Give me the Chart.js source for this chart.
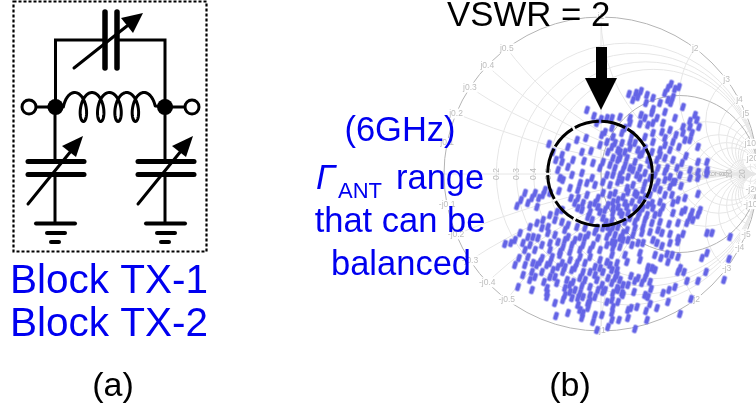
<!DOCTYPE html>
<html>
<head>
<meta charset="utf-8">
<title>Block TX balance range</title>
<script src="https://cdn.jsdelivr.net/npm/chart.js@4/dist/chart.umd.min.js"></script>
<style>
    html, body { margin: 0; padding: 0; background: #fff; overflow: hidden; }
    canvas { display: block; }
</style>
</head>
<body>
<canvas id="chart" width="756" height="411"></canvas>
<script>
// ==========================================
// 1. DATA (axes run in picture units)
// ==========================================
const upperLeft = [[587,110],[594,116],[601,119],[607,118],[597,123],[605,132],[602,135],[607,142],[600,145],[586,138],[577,140],[549,144],[553,152],[562,155],[568,147],[582,152],[591,151],[556,160],[562,162],[573,160],[584,161],[603,162],[608,152],[593,163]];

const upperRight = [[629,94],[636,93],[641,91],[633,100],[638,97],[647,95],[646,103],[653,98],[660,103],[665,93],[671,84],[668,88],[675,89],[679,87],[673,97],[671,103],[668,100],[683,107],[653,109],[665,112],[641,115],[645,118],[652,113],[675,118],[630,118],[620,117],[640,124],[648,125],[657,118],[653,123],[663,123],[630,123],[612,118],[690,121],[695,115],[697,120],[699,127],[690,127],[683,127],[683,133],[676,135],[692,133],[670,130],[662,132],[653,133],[645,137],[632,135],[622,133],[613,137],[615,143],[622,143],[630,142],[635,143],[665,138],[673,142],[685,140],[690,140],[653,142],[645,148],[665,145],[679,147],[698,147],[670,150],[660,150],[652,152],[612,147],[620,152],[625,152],[630,148],[638,150],[686,156],[707,162],[698,162],[613,158],[627,158],[620,158],[635,162],[657,160],[665,158],[673,160],[682,163],[660,155],[642,154]];

const middleLeft = [[558,170],[563,180],[572,175],[582,173],[592,178],[600,168],[559,191],[550,193],[543,195],[539,198],[545,190],[535,193],[532,198],[528,203],[537,207],[525,193],[521,200],[517,206],[571,198],[578,198],[575,203],[587,195],[598,198],[603,193],[595,203],[605,210],[600,212],[582,210],[588,217],[592,220],[603,218],[562,210],[557,212],[550,215],[543,220],[537,223],[530,227],[562,222],[555,220],[548,227],[548,233],[542,228],[568,225],[565,230],[577,227],[585,228],[597,228],[603,228],[608,227],[520,233],[528,237],[533,237],[538,238],[515,240],[511,243],[505,244],[523,243],[530,245],[542,245],[550,243],[558,242],[568,237],[580,237],[588,235],[598,238],[607,237],[572,245],[563,247],[583,245],[593,245],[607,245],[560,178],[568,167],[580,183],[587,183],[595,185],[603,182],[607,175],[570,188],[578,190]];

const middleRight = [[615,168],[623,170],[630,168],[640,168],[645,173],[637,175],[628,177],[620,175],[613,175],[658,168],[667,168],[677,168],[690,170],[698,172],[707,170],[670,177],[680,175],[690,178],[698,178],[658,182],[665,180],[673,182],[681,186],[698,194],[685,198],[670,187],[660,190],[672,195],[678,200],[673,203],[665,195],[655,188],[618,182],[633,185],[627,188],[635,193],[645,183],[643,190],[615,193],[623,197],[613,202],[632,202],[640,200],[650,195],[652,203],[660,202],[627,207],[618,207],[635,208],[643,208],[653,208],[663,207],[613,213],[622,215],[647,215],[638,217],[630,218],[655,215],[660,213],[673,213],[682,212],[685,210],[692,212],[700,210],[690,217],[698,215],[693,220],[678,223],[669,224],[660,222],[652,223],[643,227],[635,228],[627,230],[618,227],[613,227],[687,223],[658,230],[650,232],[642,233],[633,235],[623,233],[615,235],[670,234],[662,233],[683,234],[678,238],[707,233],[712,233],[670,243],[662,246],[678,242],[653,240],[657,243],[638,243],[643,243],[623,240],[615,243],[620,247],[632,245],[613,248],[707,174],[730,237]];

const lowerLeft = [[519,258],[515,265],[528,257],[525,265],[523,275],[530,280],[518,287],[532,290],[532,272],[537,265],[542,272],[535,277],[544,282],[547,265],[552,257],[560,255],[553,270],[550,277],[558,267],[563,272],[547,288],[547,293],[547,297],[557,283],[565,288],[570,292],[565,295],[563,300],[572,298],[555,303],[556,316],[568,313],[580,293],[590,287],[580,278],[583,272],[590,272],[572,270],[570,260],[580,257],[590,257],[600,260],[595,267],[603,272],[608,278],[590,295],[583,297],[595,297],[603,292],[602,285],[578,305],[588,303],[582,318],[583,313],[595,315],[602,315],[593,322],[608,327],[597,330],[607,302],[580,310],[588,308],[573,282],[562,263],[542,258],[533,263],[607,262],[577,263],[585,263],[567,280],[597,280]];

const lowerRight = [[612,255],[617,263],[617,270],[625,255],[627,262],[640,253],[640,260],[655,255],[661,258],[667,254],[672,255],[668,262],[678,257],[702,258],[707,253],[729,259],[724,280],[706,272],[698,281],[687,281],[684,272],[678,272],[680,268],[648,267],[655,270],[647,273],[652,268],[631,276],[638,278],[635,281],[642,283],[645,278],[650,282],[651,289],[634,292],[623,285],[618,290],[613,293],[622,293],[615,278],[612,283],[617,275],[663,293],[669,290],[675,287],[645,295],[648,297],[668,302],[691,299],[680,314],[657,308],[650,304],[646,311],[637,307],[631,308],[628,310],[628,318],[619,320],[612,320],[647,320],[635,329],[618,302],[613,307],[612,313],[617,288],[623,295],[612,300]];

// Extra marks where the cloud is nearly solid
const denseCore = [[610,165],[618,160],[625,165],[633,170],[640,178],[650,178],[622,180],[610,185],[628,192],[610,195],[618,200],[625,203],[637,195],[645,197],[608,205],[613,208],[620,212],[628,213],[640,212],[648,205],[606,222],[612,220],[625,222],[635,222],[645,220],[590,205],[583,203],[578,208],[590,212],[598,207],[610,232],[620,238],[628,240],[595,232],[585,238],[575,240],[565,240],[555,235],[550,250],[560,252],[570,252],[580,250],[590,250],[600,250],[612,242],[535,250],[525,250],[540,262],[550,263],[575,268],[585,280],[595,275],[600,268],[610,265],[575,290],[582,286],[590,301],[598,290],[570,285],[578,298],[555,277],[565,267],[605,290],[612,270],[620,280],[628,285],[650,165],[655,175],[665,172],[675,182],[640,155],[648,160],[618,150],[612,128],[625,128]];

// Smith chart grid values
const resistances = [0.2, 0.3, 0.4, 0.5, 2, 3, 4, 5, 10, 20];
const reactances = [0.2, 0.3, 0.4, 0.5, 1, 2, 3, 4, 5, 6, 7, 8, 9, 10, 20];
const resistanceLabels = ['0.2', '0.3', '0.4', '0.5', '2', '3', '4', '5', '6', '7', '8', '9', '10', '20'];
const reactanceLabels = ['0.1', '0.2', '0.3', '0.4', '0.5', '1', '2', '3', '4', '5', '10', '20'];
const targetVswr = 2;

// Text: [string, x, baseline y, size, colour, align]
const captions = [
    ['VSWR = 2', 447, 26, 34.8, '#000', 'left'],
    ['Block TX-1', 10, 293, 40.5, '#0000f0', 'left'],
    ['Block TX-2', 10, 336, 40.5, '#0000f0', 'left'],
    ['(a)', 113, 396, 34, '#000', 'center'],
    ['(b)', 570, 396, 34, '#000', 'center'],
    ['(6GHz)', 400, 141, 34.5, '#0000f0', 'center'],
    ['range', 396, 189, 34.5, '#0000f0', 'left'],
    ['that can be', 400, 232, 34.5, '#0000f0', 'center'],
    ['balanced', 401, 275, 34.5, '#0000f0', 'center']
];

const SANS = '"Liberation Sans", Arial, sans-serif';
const smithCentre = { x: 601, y: 174, r: 157 };

// ==========================================
// 2. POINT SHAPE (slanted blob)
// ==========================================
function makeBlob() {
    const c = document.createElement('canvas');
    c.width = 11; c.height = 11;
    const g = c.getContext('2d');
    g.fillStyle = '#6464e6';
    g.translate(5.5, 5.5);
    g.rotate(0.3);
    g.beginPath();
    g.roundRect(-2.3, -4.1, 4.6, 8.2, 1.5);
    g.fill();
    return c;
}

// ==========================================
// 3. DRAWING HELPERS
// ==========================================
function line(ctx, pts, width) {
    ctx.lineWidth = width;
    ctx.beginPath();
    pts.forEach((p, i) => i ? ctx.lineTo(p[0], p[1]) : ctx.moveTo(p[0], p[1]));
    ctx.stroke();
}

function triangle(ctx, a, b, c) {
    ctx.beginPath();
    ctx.moveTo(a[0], a[1]);
    ctx.lineTo(b[0], b[1]);
    ctx.lineTo(c[0], c[1]);
    ctx.closePath();
    ctx.fill();
}

function dot(ctx, x, y, r, hollow) {
    ctx.beginPath();
    ctx.arc(x, y, r, 0, Math.PI * 2);
    ctx.fillStyle = hollow ? '#fff' : '#000';
    ctx.fill();
    if (hollow) { ctx.lineWidth = 3; ctx.stroke(); }
    ctx.fillStyle = '#000';
}

// Shunt tunable capacitor with its ground, dx moves it to the right-hand branch
function shuntCap(ctx, dx) {
    const x = 55 + dx;
    ctx.lineCap = 'butt';
    line(ctx, [[x, 107], [x, 161]], 3);
    line(ctx, [[x, 175], [x, 223]], 3);
    ctx.lineCap = 'round';
    line(ctx, [[28 + dx, 161.5], [84 + dx, 161.5]], 5);
    line(ctx, [[28 + dx, 174.5], [84 + dx, 174.5]], 5);
    line(ctx, [[36 + dx, 223.5], [75 + dx, 223.5]], 4);
    line(ctx, [[47 + dx, 233], [65 + dx, 233]], 4);
    line(ctx, [[51 + dx, 242], [59 + dx, 242]], 4);
    line(ctx, [[28 + dx, 204], [71 + dx, 151]], 3);
    triangle(ctx, [83 + dx, 136], [62 + dx, 146], [76 + dx, 157]);
}

function drawSchematic(ctx) {
    ctx.save();
    ctx.strokeStyle = '#000';
    ctx.fillStyle = '#000';

    // dashed frame
    ctx.setLineDash([3, 2]);
    ctx.lineWidth = 2.2;
    ctx.strokeRect(13.5, 1.5, 193, 250);
    ctx.setLineDash([]);

    // series tunable capacitor on top
    line(ctx, [[55.5, 107], [55.5, 40], [105, 40]], 3);
    line(ctx, [[117, 40], [165, 40], [165, 107]], 3);
    ctx.lineCap = 'round';
    line(ctx, [[105, 12], [105, 68]], 5.5);
    line(ctx, [[117, 12], [117, 68]], 5.5);
    line(ctx, [[74, 68], [127, 26]], 3);
    triangle(ctx, [143, 13], [121, 18], [133, 33]);

    // inductor
    const coil = [[48, 107]];
    for (let t = -Math.PI / 2; t <= 8 * Math.PI + Math.PI / 2; t += 0.1) {
        coil.push([74.7 + 2.76 * t + 7 * Math.sin(t), 107 - 14.5 * Math.cos(t)]);
    }
    coil.push([172, 107]);
    ctx.lineJoin = 'round';
    line(ctx, coil, 3);

    shuntCap(ctx, 0);
    shuntCap(ctx, 110);

    // ports and nodes
    line(ctx, [[36, 107], [48, 107]], 3);
    line(ctx, [[172, 107], [185, 107]], 3);
    dot(ctx, 55.5, 107, 8);
    dot(ctx, 165, 107, 8);
    dot(ctx, 29, 107, 7, true);
    dot(ctx, 192, 107, 7, true);
    ctx.restore();
}

// Smith chart, positions go through the scales
function drawSmith(chart) {
    const { ctx, scales } = chart;
    const X = gx => scales.x.getPixelForValue(smithCentre.x + gx * smithCentre.r);
    const Y = gy => scales.y.getPixelForValue(smithCentre.y - gy * smithCentre.r);
    const R = smithCentre.r;

    ctx.save();
    ctx.beginPath();
    ctx.arc(X(0), Y(0), R, 0, Math.PI * 2);
    ctx.clip();

    ctx.strokeStyle = '#e6e6e6';
    ctx.lineWidth = 1;
    resistances.forEach(r => {
        ctx.beginPath();
        ctx.arc(X(r / (r + 1)), Y(0), R / (r + 1), 0, Math.PI * 2);
        ctx.stroke();
    });
    reactances.forEach(v => {
        [1, -1].forEach(sign => {
            ctx.beginPath();
            ctx.arc(X(1), Y(sign / v), R / v, 0, Math.PI * 2);
            ctx.stroke();
        });
    });
    line(ctx, [[X(0), Y(1)], [X(0), Y(-1)]], 1);
    line(ctx, [[X(-1), Y(0)], [X(1), Y(0)]], 1);

    // r = 1 circle is darker
    ctx.strokeStyle = '#b4b4b4';
    ctx.beginPath();
    ctx.arc(X(0.5), Y(0), R / 2, 0, Math.PI * 2);
    ctx.stroke();
    ctx.restore();

    // outer circle
    ctx.save();
    ctx.strokeStyle = '#b4b4b4';
    ctx.lineWidth = 1;
    ctx.beginPath();
    ctx.arc(X(0), Y(0), R, 0, Math.PI * 2);
    ctx.stroke();

    // labels
    ctx.font = '8.5px ' + SANS;
    ctx.textAlign = 'center';
    ctx.textBaseline = 'middle';
    ctx.fillStyle = '#bdbdbd';
    reactanceLabels.forEach(v => {
        const x = parseFloat(v);
        const a = Math.PI - 2 * Math.atan(x);
        const rim = x >= 10 ? 0.97 : 1;
        [1, -1].forEach(sign => {
            const text = (sign > 0 ? 'j' : '-j') + v;
            const px = X(Math.cos(a) * rim);
            const py = Y(sign * Math.sin(a) * rim);
            const w = ctx.measureText(text).width + 2;
            ctx.fillStyle = '#fff';
            ctx.fillRect(px - w / 2, py - 5, w, 10);
            ctx.fillStyle = '#bdbdbd';
            ctx.fillText(text, px, py);
        });
    });
    resistanceLabels.forEach(v => {
        const r = parseFloat(v);
        ctx.save();
        ctx.translate(X((r - 1) / (r + 1)), Y(0));
        ctx.rotate(-Math.PI / 2);
        ctx.fillText(v, 0, 0);
        ctx.restore();
    });
    ctx.restore();
}

function drawOverlay(chart) {
    const { ctx, scales } = chart;
    ctx.save();

    // VSWR circle
    const gamma = (targetVswr - 1) / (targetVswr + 1);
    ctx.strokeStyle = '#000';
    ctx.lineWidth = 3;
    ctx.setLineDash([25, 2.5]);
    ctx.beginPath();
    ctx.arc(scales.x.getPixelForValue(smithCentre.x - 1), scales.y.getPixelForValue(smithCentre.y - 0.5), gamma * smithCentre.r, 0, Math.PI * 2);
    ctx.stroke();
    ctx.setLineDash([]);

    // big arrow
    ctx.fillStyle = '#000';
    ctx.fillRect(596, 47, 11, 32);
    triangle(ctx, [585, 78], [617, 78], [601, 110]);

    drawSchematic(ctx);

    // text
    ctx.textBaseline = 'alphabetic';
    captions.forEach(c => {
        ctx.font = c[3] + 'px ' + SANS;
        ctx.fillStyle = c[4];
        ctx.textAlign = c[5];
        ctx.fillText(c[0], c[1], c[2]);
    });
    ctx.textAlign = 'left';
    ctx.fillStyle = '#0000f0';
    ctx.font = 'italic 34.5px ' + SANS;
    ctx.fillText('\u0393', 316, 189);
    ctx.font = '22px ' + SANS;
    ctx.fillText('ANT', 338, 198);
    ctx.restore();
}

// ==========================================
// 4. CHART
// ==========================================
const gridPlugin = {
    id: 'smithGrid',
    beforeDatasetsDraw: chart => drawSmith(chart),
    afterDatasetsDraw: chart => drawOverlay(chart)
};

const allPoints = [...upperLeft, ...upperRight, ...middleLeft, ...middleRight, ...lowerLeft, ...lowerRight, ...denseCore];

new Chart(document.getElementById('chart'), {
    type: 'scatter',
    data: {
        datasets: [{
            label: 'Gamma ANT range',
            data: allPoints.map(p => ({ x: p[0], y: p[1] })),
            pointStyle: makeBlob(),
            pointRadius: 4,
            pointHoverRadius: 4
        }]
    },
    options: {
        responsive: false,
        animation: false,
        layout: { padding: 0 },
        plugins: { legend: { display: false }, tooltip: { enabled: false } },
        scales: {
            // the chart area keeps a 5px inset for the points, so one unit stays one picture pixel
            x: { type: 'linear', min: 5, max: 751, display: false },
            y: { type: 'linear', min: 5, max: 406, reverse: true, display: false }
        }
    },
    plugins: [gridPlugin]
});
</script>
</body>
</html>
